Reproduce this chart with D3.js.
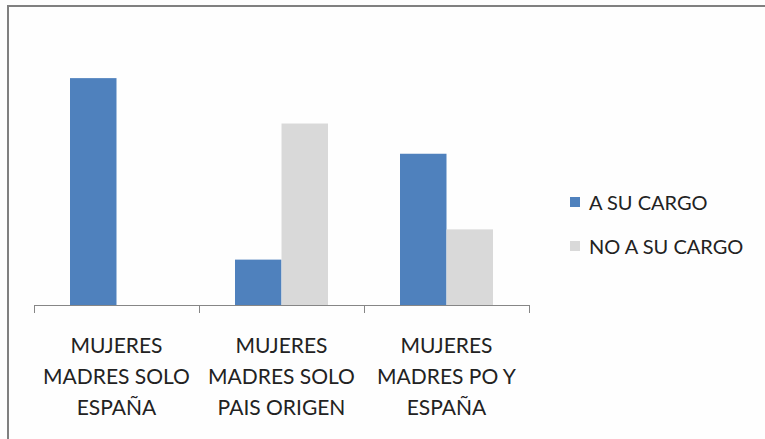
<!DOCTYPE html>
<html><head><meta charset="utf-8">
<script src="https://cdn.jsdelivr.net/npm/d3@7"></script>
<style>html,body{margin:0;padding:0;background:#fff;}svg{display:block;}</style>
</head><body>
<svg id="chart" width="765" height="439"></svg>
<script>
const categories = [
  ["MUJERES", "MADRES SOLO", "ESPAÑA"],
  ["MUJERES", "MADRES SOLO", "PAIS ORIGEN"],
  ["MUJERES", "MADRES PO Y", "ESPAÑA"]
];
const seriesNames = ["A SU CARGO", "NO A SU CARGO"];
const aSuCargo = [15, 3, 10];
const noASuCargo = [0, 12, 5];
const colors = ["#4f81bd", "#d9d9d9"];

const svg = d3.select("#chart");
const font = "Lato, 'Open Sans', sans-serif";

svg.append("rect").attr("x",0).attr("y",0).attr("width",765).attr("height",439).attr("fill","#fefefe");
// frame (top and left edges)
svg.append("line").attr("x1",8).attr("x2",765).attr("y1",6).attr("y2",6).attr("stroke","#808080").attr("stroke-width",2);
svg.append("line").attr("x1",8).attr("x2",8).attr("y1",5).attr("y2",439).attr("stroke","#808080").attr("stroke-width",2);

const x0 = d3.scaleBand().domain(d3.range(categories.length)).range([34, 529]).paddingInner(0).paddingOuter(0);
const x1 = d3.scaleBand().domain(seriesNames).range([36, x0.bandwidth()-36]);
const y = d3.scaleLinear().domain([0, 16]).range([305, 63]);

const data = [aSuCargo, noASuCargo];
const g = svg.append("g");
categories.forEach((c, i) => {
  seriesNames.forEach((s, j) => {
    const v = data[j][i];
    if (v > 0) {
      g.append("rect")
        .attr("x", x0(i) + x1(s))
        .attr("width", x1.bandwidth())
        .attr("y", y(v))
        .attr("height", y(0) - y(v))
        .attr("fill", colors[j]);
    }
  });
});

// axis
const axis = svg.append("g");
axis.append("line").attr("x1",34).attr("x2",529).attr("y1",305.5).attr("y2",305.5).attr("stroke","#868686").attr("stroke-width",1);
d3.range(categories.length + 1).forEach(k => {
  const xx = k < categories.length ? x0(k) : x0(categories.length-1) + x0.bandwidth();
  axis.append("line").attr("x1",Math.round(xx)+0.5).attr("x2",Math.round(xx)+0.5).attr("y1",305).attr("y2",313).attr("stroke","#868686");
});

categories.forEach((lines, i) => {
  const t = svg.append("text")
    .attr("x", x0(i) + x0.bandwidth()/2)
    .attr("text-anchor","middle")
    .attr("font-family", font)
    .attr("font-size", 21)
    .attr("fill","#222");
  lines.forEach((l, k) => {
    t.append("tspan").attr("x", x0(i) + x0.bandwidth()/2).attr("y", 353 + k*31).text(l);
  });
});

// legend
const leg = svg.append("g");
seriesNames.forEach((s, j) => {
  const yy = 202 + j*44;
  leg.append("rect").attr("x",570).attr("y",yy-5).attr("width",10).attr("height",10).attr("fill",colors[j]);
  leg.append("text").attr("x",589).attr("y",yy+7.5)
    .attr("font-family", font).attr("font-size",20).attr("fill","#222").text(s);
});
</script>
</body></html>
